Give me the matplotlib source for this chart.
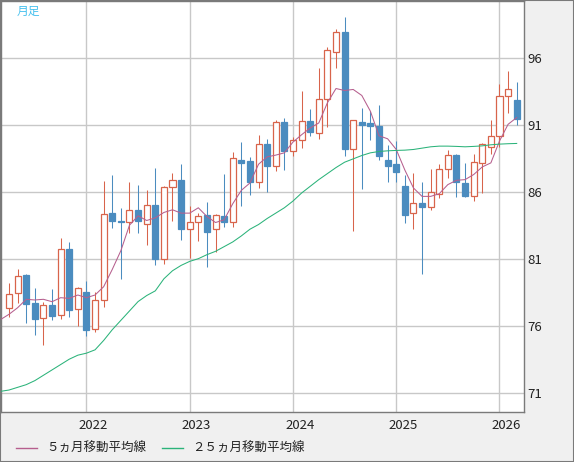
import matplotlib

matplotlib.use("Agg")
import matplotlib.pyplot as plt  # noqa: E402
import numpy as np  # noqa: E402
from matplotlib.patches import Rectangle  # noqa: E402
from matplotlib.lines import Line2D  # noqa: E402

plt.rcParams["font.family"] = ["Noto Sans CJK JP", "DejaVu Sans"]

# monthly candles, Apr 2021 .. Mar 2026
opens = [
    77.29, 78.41, 79.78, 77.69, 76.55, 77.52, 76.77, 81.70, 77.22,
    78.51, 75.73, 77.89, 84.38, 83.83, 83.75, 84.65, 83.58, 85.03, 80.95, 86.35, 86.90,
    83.20, 83.75, 84.23, 83.23, 84.15, 83.73, 88.40, 88.28, 86.75, 89.55, 87.93, 91.20,
    89.03, 89.85, 91.28, 90.38, 92.93, 96.45, 97.90, 89.15, 91.23, 91.15, 90.93, 88.40,
    88.03, 86.45, 84.40, 85.15, 84.85, 85.85, 87.70, 88.75, 86.65, 85.65, 88.13, 89.35,
    90.15, 93.15, 92.83,
]
highs = [
    79.18, 80.23, 79.88, 78.81, 77.77, 78.74, 82.52, 82.24, 78.91,
    79.33, 78.51, 86.83, 87.28, 84.78, 86.75, 86.53, 86.15, 87.80, 86.45, 87.43, 88.10,
    84.90, 84.43, 85.20, 84.30, 87.30, 88.93, 89.70, 88.60, 90.23, 89.95, 91.35, 91.50,
    90.10, 93.48, 92.20, 95.25, 96.80, 98.13, 99.03, 91.35, 92.28, 92.05, 92.48, 89.45,
    89.75, 87.28, 87.40, 86.75, 87.70, 88.03, 89.10, 88.83, 88.15, 88.85, 89.65, 91.35,
    94.03, 94.98, 94.20,
]
lows = [
    76.67, 77.67, 76.22, 75.33, 74.58, 76.40, 76.47, 76.67, 76.00,
    75.25, 75.55, 77.42, 83.28, 79.46, 82.90, 82.95, 82.05, 80.53, 80.63, 83.78, 82.43,
    81.03, 82.30, 80.35, 81.53, 83.35, 83.40, 84.90, 85.75, 86.25, 86.00, 87.53, 87.63,
    88.63, 89.25, 90.13, 89.93, 90.80, 95.23, 88.70, 83.08, 86.23, 89.83, 88.38, 86.70,
    86.70, 83.70, 83.20, 79.83, 84.60, 85.53, 87.00, 85.60, 85.60, 85.28, 85.90, 88.85,
    89.35, 91.90, 90.95,
]
closes = [
    78.34, 79.68, 77.64, 76.52, 77.52, 76.75, 81.70, 77.19, 78.81,
    75.70, 77.92, 84.35, 83.80, 83.73, 84.65, 83.78, 85.00, 80.95, 86.35, 86.88, 83.18,
    83.73, 84.20, 82.98, 84.28, 83.73, 88.55, 88.15, 86.73, 89.53, 87.93, 91.18, 89.05,
    89.85, 91.28, 90.48, 92.93, 96.60, 97.95, 89.15, 91.35, 91.00, 90.88, 88.63, 87.95,
    87.45, 84.23, 85.15, 84.85, 85.98, 87.70, 88.75, 86.70, 85.65, 88.23, 89.58, 90.18,
    93.15, 93.65, 91.43,
]

# moving averages, Mar 2021 .. Mar 2026 (one month more on the left)
ma5 = [
    76.45,
    76.85, 77.34, 77.97, 77.92, 77.97, 77.79, 78.09, 78.04, 78.29,
    78.09, 78.29, 78.91, 80.20, 81.60, 83.50, 84.20, 83.85, 84.05, 84.45, 84.65, 84.40,
    84.40, 84.80, 84.15, 83.70, 83.90, 85.10, 86.10, 86.65, 88.05, 88.60, 88.73, 88.90,
    89.70, 90.25, 90.75, 91.13, 92.63, 93.70, 93.55, 93.63, 93.18, 92.00, 90.17, 89.95,
    89.15, 87.62, 86.28, 85.65, 85.65, 85.85, 86.53, 86.85, 86.90, 87.28, 87.85, 88.15,
    89.78, 91.03, 91.53,
]
ma25 = [
    71.10,
    71.20, 71.40, 71.60, 71.90, 72.30, 72.70, 73.10, 73.50, 73.80,
    73.95, 74.20, 74.90, 75.70, 76.40, 77.10, 77.80, 78.25, 78.60, 79.50, 80.10, 80.50,
    80.80, 81.00, 81.30, 81.55, 81.90, 82.25, 82.70, 83.20, 83.55, 84.00, 84.40, 84.80,
    85.30, 85.90, 86.40, 86.90, 87.35, 87.80, 88.20, 88.45, 88.70, 88.90, 89.00, 89.05,
    89.08, 89.10, 89.15, 89.25, 89.35, 89.40, 89.40, 89.38, 89.35, 89.38, 89.42, 89.50,
    89.55, 89.58, 89.60,
]

first_year, first_month = 2021, 4
year_labels = ["2022", "2023", "2024", "2025", "2026"]
y_ticks = [71, 76, 81, 86, 91, 96]
legend_labels = ["５ヵ月移動平均線", "２５ヵ月移動平均線"]

UP = "#d8644b"
DOWN = "#4b8cbf"
MA5_C = "#b65f8e"
MA25_C = "#2bb37a"
GRID = "#c8c8c8"
PANEL = "#f0f0f0"

W, H = 574, 462
fig = plt.figure(figsize=(W / 100, H / 100), dpi=100, facecolor=PANEL)
ax = fig.add_axes([1 / W, (H - 412) / H, 522.5 / W, 411 / H])
ax.set_facecolor("white")

n = len(opens)
x = np.arange(n)
bw = 0.7
for i in x:
    o, h, lo, c = opens[i], highs[i], lows[i], closes[i]
    up = c >= o
    col = UP if up else DOWN
    ax.vlines(i, lo, h, color=col, lw=0.75, zorder=2)
    ax.add_patch(Rectangle((i - bw / 2, min(o, c)), bw, max(abs(c - o), 0.05),
                           facecolor="white" if up else col, edgecolor=col,
                           lw=0.9, zorder=3))

xm = np.arange(-1, n)
ax.plot(xm, ma5, color=MA5_C, lw=0.75, zorder=4)
ax.plot(xm, ma25, color=MA25_C, lw=0.75, zorder=4)

ax.set_xlim(-0.93, 59.79)
ax.set_ylim(69.56, 100.23)

jan_idx = np.array([12 * k + (13 - first_month) for k in range(len(year_labels))])
ax.set_xticks(jan_idx)
ax.set_xticks(jan_idx + 0.8, year_labels, minor=True)
ax.tick_params(axis="x", which="both", length=0, labelsize=9.5, pad=5, colors="#222222")
ax.tick_params(axis="x", which="major", labelbottom=False)
ax.yaxis.tick_right()
ax.set_yticks(y_ticks)
ax.tick_params(axis="y", length=0, labelsize=9.5, pad=2.5, colors="#222222")
ax.grid(True, which="major", color=GRID, lw=1.0, zorder=0)
ax.set_axisbelow(True)
for s in ax.spines.values():
    s.set_color("#7a7a7a")
    s.set_linewidth(1.0)

ax.text(16 / 522.5, 1 - 10 / 411, "月足", transform=ax.transAxes, fontsize=8.5,
        color="#44c0ee", ha="left", va="center")

# legend along the bottom
ly = (H - 448) / H
for (x0, x1, tx), col, lab in zip([(16, 37, 46), (162, 183, 192)], [MA5_C, MA25_C], legend_labels):
    fig.add_artist(Line2D([x0 / W, x1 / W], [ly, ly], color=col, lw=1.0))
    fig.text(tx / W, ly, lab, fontsize=9, ha="left", va="center", color="#222222")

fig.add_artist(Rectangle((0, 0), 1, 1, transform=fig.transFigure, fill=False,
                         edgecolor="#7a7a7a", lw=1.5))

fig.savefig("out.png", dpi=100, facecolor=PANEL)
